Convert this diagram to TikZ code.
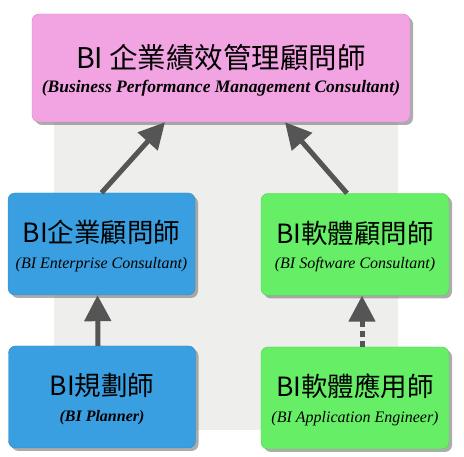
\documentclass[tikz,border=0pt]{standalone}
\usepackage{fontspec}
\setmainfont{Liberation Serif}
\newfontfamily\cjk{Noto Sans CJK TC}
\usetikzlibrary{arrows.meta,shadows}

\definecolor{pinkfill}{HTML}{F2A4E2}
\definecolor{bluefill}{HTML}{3A9FE0}
\definecolor{greenfill}{HTML}{66EE66}
\definecolor{backgray}{HTML}{EEEEEC}
\definecolor{arrgray}{HTML}{555555}

\newcommand{\zh}[2]{{\cjk\fontsize{#1}{#1}\selectfont\rule{0pt}{1em}#2}}
\newcommand{\en}[2]{{\itshape\fontsize{#1}{#1}\selectfont #2}}

\begin{document}
\begin{tikzpicture}[x=1pt,y=-1pt,
	box/.style={rounded corners=7pt, align=center, inner sep=0pt,
		drop shadow={shadow xshift=3pt, shadow yshift=-3pt, opacity=0.65}},
	pinkbox/.style={box, fill=pinkfill, draw=pinkfill!85!black, minimum width=378pt, minimum height=108pt},
	bluebox/.style={box, fill=bluefill, draw=bluefill!85!black, minimum width=187pt, minimum height=102pt},
	greenbox/.style={box, fill=greenfill, draw=greenfill!85!black, minimum width=188pt, minimum height=102pt},
	arr/.style={arrgray, line width=5pt, -{Triangle[length=26pt,width=26pt]}}]
	\useasboundingbox (0,0) rectangle (464,457);
	\fill[backgray] (54,40) rectangle (398,430);

	\node[pinkbox] (bpm) at (221,68) {\zh{28.5}{BI 企業績效管理顧問師}\\[9pt]
		{\bfseries\en{17.5}{(Business Performance Management Consultant)}}};
	\node[bluebox] (ent) at (101.5,244) {\zh{26.5}{BI企業顧問師}\\[11pt]\en{16}{(BI Enterprise Consultant)}};
	\node[greenbox] (soft) at (355,244.5) {\zh{26.5}{BI軟體顧問師}\\[11pt]\en{16}{(BI Software Consultant)}};
	\node[bluebox] (plan) at (102,397) {\zh{26.5}{BI規劃師}\\[11pt]{\bfseries\en{16}{(BI Planner)}}};
	\node[greenbox] (app) at (355,398) {\zh{26.5}{BI軟體應用師}\\[11pt]\en{16}{(BI Application Engineer)}};

	\draw[arr] (ent.north) -- ([xshift=-56pt]bpm.south);
	\draw[arr] ([xshift=-8pt]soft.north) -- ([xshift=64pt]bpm.south);
	\draw[arr] ([xshift=-4pt]plan.north) -- ([xshift=-4pt]ent.south);
	\draw[arr, dash pattern=on 6pt off 4pt] ([xshift=7pt]app.north) -- ([xshift=7pt]soft.south);
\end{tikzpicture}
\end{document}
